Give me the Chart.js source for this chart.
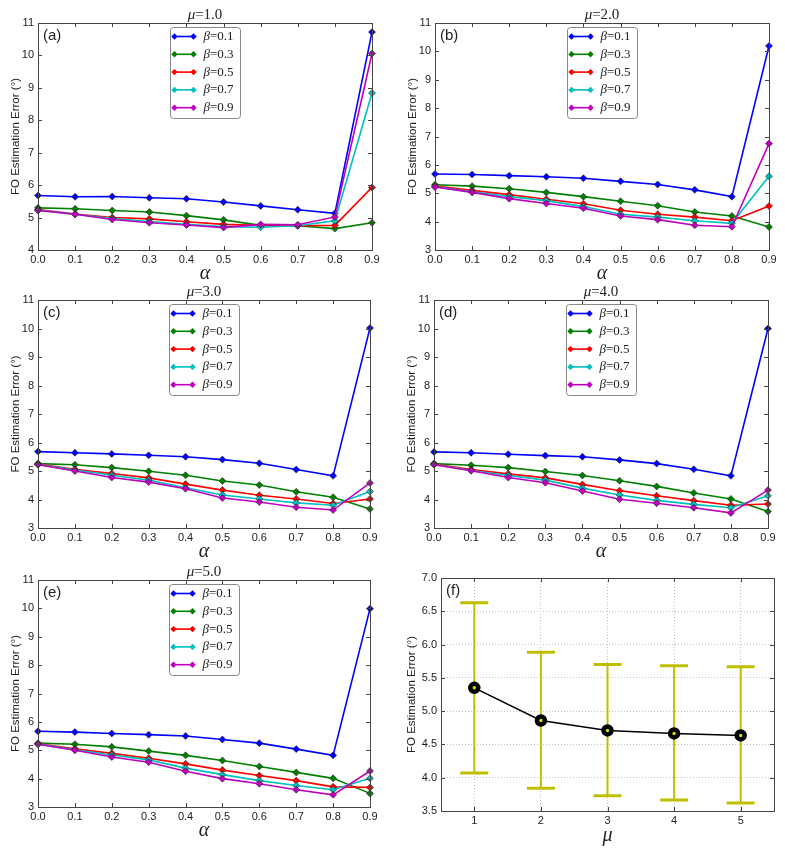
<!DOCTYPE html>
<html>
<head>
<meta charset="utf-8">
<script src="https://cdn.jsdelivr.net/npm/chart.js@4.4.1/dist/chart.umd.min.js"></script>
<style>
  html, body { margin: 0; padding: 0; background: #fff; }
  body { width: 785px; height: 853px; position: relative; overflow: hidden; }
  canvas { position: absolute; }
</style>
</head>
<body>
<script>
// x categories and series labels
const alphaLabels = ['0.0', '0.1', '0.2', '0.3', '0.4', '0.5', '0.6', '0.7', '0.8', '0.9'];
const betaLabels = ['0.1', '0.3', '0.5', '0.7', '0.9'];
const betaColors = ['#0000ff', '#008000', '#ff0000', '#00bfbf', '#bf00bf'];

// FO estimation error per beta (rows) over alpha, one array per mu
const mu1Errors = [
  [5.68, 5.64, 5.65, 5.61, 5.58, 5.48, 5.36, 5.24, 5.13, 10.72],
  [5.30, 5.27, 5.22, 5.17, 5.06, 4.93, 4.76, 4.75, 4.66, 4.84],
  [5.25, 5.11, 5.00, 4.96, 4.87, 4.79, 4.76, 4.75, 4.76, 5.93],
  [5.23, 5.10, 4.97, 4.88, 4.79, 4.72, 4.70, 4.75, 4.90, 8.84],
  [5.22, 5.10, 4.94, 4.84, 4.77, 4.69, 4.79, 4.78, 5.02, 10.06]
];
const mu2Errors = [
  [5.68, 5.66, 5.62, 5.58, 5.53, 5.42, 5.31, 5.12, 4.88, 10.19],
  [5.30, 5.25, 5.16, 5.03, 4.88, 4.72, 4.56, 4.34, 4.20, 3.81],
  [5.25, 5.10, 4.95, 4.79, 4.63, 4.40, 4.26, 4.16, 4.03, 4.55],
  [5.23, 5.05, 4.88, 4.74, 4.53, 4.26, 4.16, 4.03, 3.94, 5.60],
  [5.22, 5.03, 4.81, 4.64, 4.47, 4.20, 4.07, 3.87, 3.82, 6.75]
];
const mu3Errors = [
  [5.68, 5.64, 5.60, 5.55, 5.50, 5.40, 5.27, 5.05, 4.83, 10.02],
  [5.26, 5.22, 5.12, 4.99, 4.85, 4.65, 4.51, 4.27, 4.08, 3.67],
  [5.24, 5.06, 4.91, 4.76, 4.54, 4.33, 4.15, 4.02, 3.86, 4.02],
  [5.23, 5.03, 4.85, 4.68, 4.41, 4.16, 4.02, 3.88, 3.80, 4.28],
  [5.22, 5.00, 4.77, 4.61, 4.38, 4.05, 3.91, 3.73, 3.63, 4.58]
];
const mu4Errors = [
  [5.67, 5.64, 5.59, 5.54, 5.50, 5.39, 5.26, 5.06, 4.83, 10.00],
  [5.26, 5.20, 5.12, 4.98, 4.84, 4.66, 4.46, 4.23, 4.02, 3.58],
  [5.24, 5.05, 4.90, 4.76, 4.53, 4.31, 4.13, 3.96, 3.80, 3.84],
  [5.23, 5.02, 4.84, 4.68, 4.40, 4.16, 3.97, 3.83, 3.71, 4.13],
  [5.22, 5.01, 4.77, 4.59, 4.30, 4.01, 3.87, 3.71, 3.53, 4.33]
];
const mu5Errors = [
  [5.67, 5.64, 5.59, 5.55, 5.50, 5.38, 5.25, 5.04, 4.82, 9.99],
  [5.25, 5.21, 5.12, 4.97, 4.82, 4.64, 4.43, 4.22, 4.01, 3.48],
  [5.23, 5.05, 4.89, 4.72, 4.52, 4.30, 4.11, 3.93, 3.71, 3.69],
  [5.22, 5.02, 4.83, 4.66, 4.37, 4.14, 3.93, 3.76, 3.61, 4.01],
  [5.21, 5.00, 4.76, 4.58, 4.26, 4.00, 3.82, 3.61, 3.43, 4.27]
];

// panel (f): mean error and error bar ends per mu
const muValues = [1, 2, 3, 4, 5];
const meanError = [5.35, 4.86, 4.71, 4.665, 4.635];
const upperError = [6.63, 5.885, 5.70, 5.68, 5.665];
const lowerError = [4.07, 3.84, 3.73, 3.665, 3.62];

const SANS = "'Liberation Sans', Arial, sans-serif";
const SERIF = "'Liberation Serif', 'Times New Roman', serif";
const TEXT = '#222';
const FRAME = '#444';
const YTITLE = 'FO Estimation Error (°)';

// plot area of each panel in page pixels: left, top, right, bottom
const panels = [
  { tag: '(a)', mu: '1.0', data: mu1Errors, yMin: 4, yMax: 11, area: [38, 23, 372, 250] },
  { tag: '(b)', mu: '2.0', data: mu2Errors, yMin: 3, yMax: 11, area: [435, 23, 769, 250] },
  { tag: '(c)', mu: '3.0', data: mu3Errors, yMin: 3, yMax: 11, area: [38, 300, 370, 528] },
  { tag: '(d)', mu: '4.0', data: mu4Errors, yMin: 3, yMax: 11, area: [434, 300, 768, 528] },
  { tag: '(e)', mu: '5.0', data: mu5Errors, yMin: 3, yMax: 11, area: [38, 580, 370, 807] }
];

function makeCanvas(area, yw) {
  const c = document.createElement('canvas');
  const left = area[0] - yw, top = area[1] - 23;
  c.width = area[2] + 14 - left;
  c.height = area[3] + 44 - top;
  c.style.left = left + 'px';
  c.style.top = top + 'px';
  document.body.appendChild(c);
  return c;
}

// pin the axis boxes so the plot area lands where the reference has it
function fixBox(size, isX) {
  return (s) => {
    if (isX) s.height = size; else s.width = size;
    s.paddingLeft = s.paddingRight = s.paddingTop = s.paddingBottom = 0;
  };
}

function diamond(ctx, x, y, r) {
  ctx.beginPath();
  ctx.moveTo(x, y - r); ctx.lineTo(x + r, y); ctx.lineTo(x, y + r); ctx.lineTo(x - r, y);
  ctx.closePath();
  ctx.fill();
}

function mathText(ctx, sym, rest, x, y, size, align) {
  ctx.font = 'italic ' + size + 'px ' + SERIF;
  const w1 = ctx.measureText(sym).width;
  ctx.font = size + 'px ' + SERIF;
  const w2 = ctx.measureText(rest).width;
  let x0 = x;
  if (align === 'center') x0 = x - (w1 + w2) / 2;
  ctx.textAlign = 'left';
  ctx.font = 'italic ' + size + 'px ' + SERIF;
  ctx.fillText(sym, x0, y);
  ctx.font = size + 'px ' + SERIF;
  ctx.fillText(rest, x0 + w1, y);
}

// frame, inward ticks, panel tag and title
const decor = {
  id: 'decor',
  afterDraw(chart, args, opts) {
    const ctx = chart.ctx, a = chart.chartArea;
    ctx.save();
    ctx.strokeStyle = FRAME;
    ctx.lineWidth = 1;
    const xs = chart.scales.x, ys = chart.scales.y;
    ctx.beginPath();
    xs.ticks.forEach((t, i) => {
      const px = Math.round(xs.getPixelForTick(i)) + 0.5;
      ctx.moveTo(px, a.bottom); ctx.lineTo(px, a.bottom - 4);
      ctx.moveTo(px, a.top); ctx.lineTo(px, a.top + 4);
    });
    ys.ticks.forEach((t, i) => {
      const py = Math.round(ys.getPixelForTick(i)) + 0.5;
      ctx.moveTo(a.left, py); ctx.lineTo(a.left + 4, py);
      ctx.moveTo(a.right, py); ctx.lineTo(a.right - 4, py);
    });
    ctx.stroke();
    ctx.strokeRect(Math.round(a.left) + 0.5, Math.round(a.top) + 0.5,
      Math.round(a.right - a.left), Math.round(a.bottom - a.top));

    ctx.fillStyle = TEXT;
    ctx.textBaseline = 'middle';
    ctx.textAlign = 'left';
    ctx.font = '15px ' + SANS;
    ctx.fillText(opts.tag, a.left + 5, a.top + 13);
    if (opts.mu) mathText(ctx, 'μ', '=' + opts.mu, (a.left + a.right) / 2, a.top - 8, 15, 'center');
    ctx.restore();
  }
};

// legend box inside the plot, top centre
const betaLegend = {
  id: 'betaLegend',
  afterDatasetsDraw(chart) {
    const ctx = chart.ctx, a = chart.chartArea;
    const w = 70, h = 91;
    const x0 = Math.round((a.left + a.right) / 2 - w / 2) + 0.5;
    const y0 = Math.round(a.top + 4) + 0.5;
    ctx.save();
    ctx.beginPath();
    ctx.roundRect(x0, y0, w, h, 3);
    ctx.fillStyle = '#fff';
    ctx.fill();
    ctx.strokeStyle = '#888';
    ctx.lineWidth = 1;
    ctx.stroke();
    betaLabels.forEach((lab, i) => {
      const y = y0 + 9 + i * 17.8;
      ctx.strokeStyle = betaColors[i];
      ctx.fillStyle = betaColors[i];
      ctx.lineWidth = 1.6;
      ctx.beginPath();
      ctx.moveTo(x0 + 4, y); ctx.lineTo(x0 + 23, y);
      ctx.stroke();
      diamond(ctx, x0 + 4, y, 3.2);
      diamond(ctx, x0 + 23, y, 3.2);
      ctx.fillStyle = TEXT;
      ctx.textBaseline = 'middle';
      mathText(ctx, 'β', '=' + lab, x0 + 33, y, 13, 'left');
    });
    ctx.restore();
  }
};

function tickFont() { return { family: SANS, size: 11 }; }

panels.forEach((p) => {
  const canvas = makeCanvas(p.area, 38);
  new Chart(canvas, {
    type: 'line',
    data: {
      labels: alphaLabels,
      datasets: p.data.map((vals, i) => ({
        label: 'β=' + betaLabels[i],
        data: vals,
        borderColor: betaColors[i],
        backgroundColor: betaColors[i],
        borderWidth: 1.6,
        pointStyle: 'rectRot',
        pointRadius: 3.5,
        pointBorderColor: '#111',
        pointBorderWidth: 0.5,
        pointBackgroundColor: betaColors[i],
        tension: 0,
        fill: false,
        clip: false,
        order: p.data.length - 1 - i
      }))
    },
    options: {
      responsive: false,
      animation: false,
      devicePixelRatio: 1,
      layout: { padding: { top: 23, right: 14, left: 0, bottom: 0 } },
      plugins: {
        legend: { display: false },
        tooltip: { enabled: false },
        decor: { tag: p.tag, mu: p.mu }
      },
      scales: {
        x: {
          type: 'category',
          grid: { display: false, drawTicks: false },
          border: { display: false },
          ticks: { color: TEXT, font: tickFont(), padding: 3, maxRotation: 0, autoSkip: false },
          title: { display: true, text: 'α', color: TEXT, font: { family: SERIF, size: 20, style: 'italic' }, padding: { top: 0, bottom: 8 } },
          afterFit: fixBox(44, true)
        },
        y: {
          min: p.yMin,
          max: p.yMax,
          grid: { display: false, drawTicks: false },
          border: { display: false },
          ticks: { stepSize: 1, color: TEXT, font: tickFont(), padding: 4 },
          title: { display: true, text: YTITLE, color: TEXT, font: { family: SANS, size: 11.5 }, padding: { top: 9, bottom: 0 } },
          afterFit: fixBox(38, false)
        }
      }
    },
    plugins: [betaLegend, decor]
  });
});

// panel (f): mean error with error bars
const errorBars = {
  id: 'errorBars',
  beforeDatasetsDraw(chart) {
    const ctx = chart.ctx, xs = chart.scales.x, ys = chart.scales.y;
    ctx.save();
    ctx.strokeStyle = '#bfbf00';
    muValues.forEach((m, i) => {
      const px = xs.getPixelForValue(m);
      const top = ys.getPixelForValue(upperError[i]);
      const bot = ys.getPixelForValue(lowerError[i]);
      ctx.lineWidth = 2;
      ctx.beginPath();
      ctx.moveTo(px, top); ctx.lineTo(px, bot);
      ctx.stroke();
      ctx.lineWidth = 3;
      ctx.beginPath();
      ctx.moveTo(px - 14, top); ctx.lineTo(px + 14, top);
      ctx.moveTo(px - 14, bot); ctx.lineTo(px + 14, bot);
      ctx.stroke();
    });
    ctx.restore();
  }
};

const fCanvas = makeCanvas([441, 578, 774, 811], 49);
new Chart(fCanvas, {
  type: 'line',
  data: {
    datasets: [{
      label: 'mean',
      data: muValues.map((m, i) => ({ x: m, y: meanError[i] })),
      borderColor: '#000',
      borderWidth: 1.5,
      pointStyle: 'circle',
      pointRadius: 4,
      pointBorderWidth: 4.5,
      pointBorderColor: '#000',
      pointBackgroundColor: '#d8d800',
      tension: 0,
      fill: false
    }]
  },
  options: {
    responsive: false,
    animation: false,
    devicePixelRatio: 1,
    layout: { padding: { top: 23, right: 14, left: 0, bottom: 0 } },
    plugins: {
      legend: { display: false },
      tooltip: { enabled: false },
      decor: { tag: '(f)', mu: null }
    },
    scales: {
      x: {
        type: 'linear',
        min: 0.5,
        max: 5.5,
        afterBuildTicks: (s) => { s.ticks = muValues.map((v) => ({ value: v })); },
        grid: { display: true, drawTicks: false, color: '#c4c4c4', lineWidth: 1 },
        border: { display: false, dash: [1, 2] },
        ticks: { color: TEXT, font: tickFont(), padding: 3, maxRotation: 0, callback: (v) => String(v) },
        title: { display: true, text: 'μ', color: TEXT, font: { family: SERIF, size: 20, style: 'italic' }, padding: { top: 0, bottom: 7 } },
        afterFit: fixBox(44, true)
      },
      y: {
        min: 3.5,
        max: 7.0,
        grid: { display: true, drawTicks: false, color: '#c4c4c4', lineWidth: 1 },
        border: { display: false, dash: [1, 2] },
        ticks: { stepSize: 0.5, color: TEXT, font: tickFont(), padding: 4, callback: (v) => v.toFixed(1) },
        title: { display: true, text: YTITLE, color: TEXT, font: { family: SANS, size: 11.5 }, padding: { top: 13, bottom: 0 } },
        afterFit: fixBox(49, false)
      }
    }
  },
  plugins: [errorBars, decor]
});
</script>
</body>
</html>
